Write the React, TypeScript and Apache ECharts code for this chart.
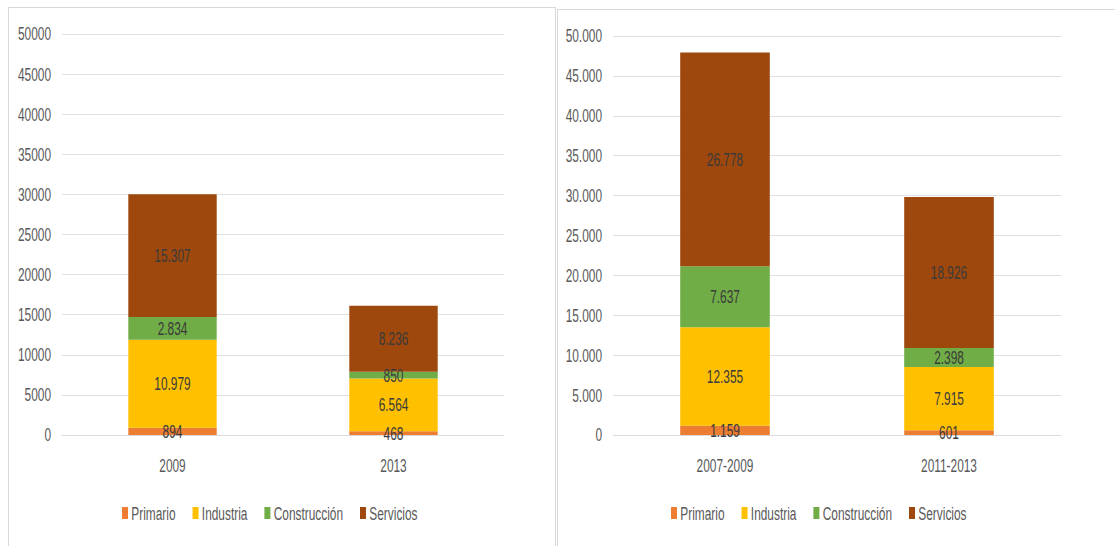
import React, { useEffect, useRef } from "react";
import * as echarts from "echarts";

const sectors = ["Primario", "Industria", "Construcción", "Servicios"];
const colors = ["#ED7D31", "#FFC000", "#70AD47", "#9E480E"];

const leftCategories = ["2009", "2013"];
const leftPrimario = [894, 468];
const leftIndustria = [10979, 6564];
const leftConstruccion = [2834, 850];
const leftServicios = [15307, 8236];

const rightCategories = ["2007-2009", "2011-2013"];
const rightPrimario = [1159, 601];
const rightIndustria = [12355, 7915];
const rightConstruccion = [7637, 2398];
const rightServicios = [26778, 18926];

const yMax = 50000;
const yInterval = 5000;

const FONT = "'Liberation Sans', Arial, sans-serif";
const FS = 18;
// horizontal squeeze of the whole drawing (reference uses a condensed font)
const S = 0.66;
const W = 1115;
const H = 546;
const X = (v: number) => v / S;

const dotFmt = (v: number) => String(v).replace(/\B(?=(\d{3})+(?!\d))/g, ".");

export default function App() {
  const ref = useRef<HTMLDivElement>(null);
  useEffect(() => {
    if (!ref.current) return;
    const chart = echarts.init(ref.current, undefined, { renderer: "svg" });
    const leftData = [leftPrimario, leftIndustria, leftConstruccion, leftServicios];
    const rightData = [rightPrimario, rightIndustria, rightConstruccion, rightServicios];

    const mkSeries = (data: number[][], idx: number, stack: string) =>
      sectors.map((name, i) => ({
        type: "bar",
        name,
        stack,
        xAxisIndex: idx,
        yAxisIndex: idx,
        barWidth: "40%",
        itemStyle: { color: colors[i] },
        label: {
          show: true,
          position: "inside",
          color: "#3a3a3a",
          fontFamily: FONT,
          fontSize: FS,
          formatter: (p: any) => dotFmt(p.value),
        },
        data: data[i],
      }));

    const xAxisBase = {
      type: "category",
      axisLine: { show: true, lineStyle: { color: "#d9d9d9" } },
      axisTick: { show: false },
      axisLabel: { color: "#595959", fontFamily: FONT, fontSize: FS, margin: 21 },
    };
    const yAxisBase = {
      type: "value",
      min: 0,
      max: yMax,
      interval: yInterval,
      axisLine: { show: false },
      axisTick: { show: false },
      splitLine: { lineStyle: { color: "#d9d9d9", width: 1 } },
    };
    const legendBase = {
      data: sectors,
      top: 504,
      padding: 0,
      itemWidth: X(6),
      itemHeight: 12,
      itemGap: X(17),
      icon: "rect",
      textStyle: { color: "#595959", fontFamily: FONT, fontSize: FS },
    };
    const vline = (x: number, y: number) => ({
      type: "rect",
      shape: { x: X(x), y, width: X(1), height: H - y },
      style: { fill: "#d9d9d9" },
    });
    const hline = (x1: number, x2: number, y: number) => ({
      type: "rect",
      shape: { x: X(x1), y, width: X(x2 - x1), height: 1 },
      style: { fill: "#d9d9d9" },
    });

    chart.setOption({
      animation: false,
      backgroundColor: "#ffffff",
      graphic: [
        hline(8, 556, 7),
        vline(8, 7),
        vline(555, 7),
        hline(557, W, 9),
        vline(557, 9),
      ],
      grid: [
        { left: X(62), top: 34, width: X(442), height: 401, containLabel: false },
        { left: X(613), top: 36, width: X(448), height: 399, containLabel: false },
      ],
      xAxis: [
        { ...xAxisBase, gridIndex: 0, data: leftCategories },
        { ...xAxisBase, gridIndex: 1, data: rightCategories },
      ],
      yAxis: [
        {
          ...yAxisBase,
          gridIndex: 0,
          axisLabel: {
            color: "#595959",
            fontFamily: FONT,
            fontSize: FS,
            margin: X(11),
            formatter: (v: number) => String(v),
          },
        },
        {
          ...yAxisBase,
          gridIndex: 1,
          axisLabel: {
            color: "#595959",
            fontFamily: FONT,
            fontSize: FS,
            margin: X(11),
            formatter: (v: number) => dotFmt(v),
          },
        },
      ],
      legend: [
        { ...legendBase, left: X(122) },
        { ...legendBase, left: X(671) },
      ],
      series: [...mkSeries(leftData, 0, "left"), ...mkSeries(rightData, 1, "right")],
    });
    return () => chart.dispose();
  }, []);
  return (
    <div
      style={{
        position: "fixed",
        left: 0,
        top: 0,
        width: W,
        height: H,
        overflow: "hidden",
        background: "#fff",
      }}
    >
      <div
        ref={ref}
        style={{
          width: X(W),
          height: H,
          transform: `scaleX(${S})`,
          transformOrigin: "0 0",
        }}
      />
    </div>
  );
}
